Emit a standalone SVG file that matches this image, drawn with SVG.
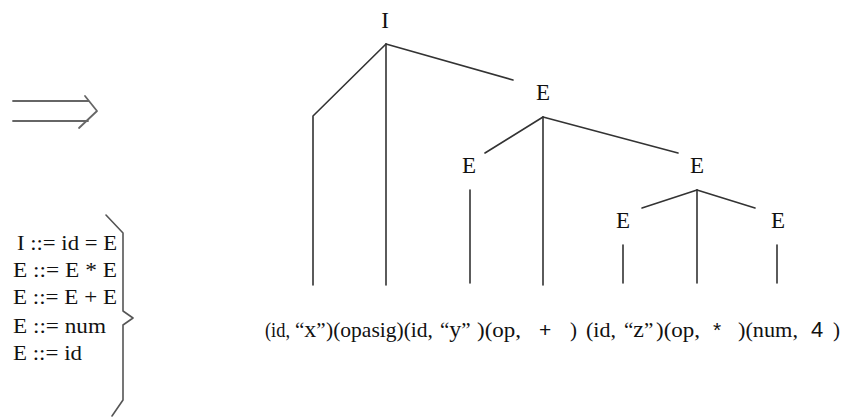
<svg xmlns="http://www.w3.org/2000/svg" width="845" height="417" viewBox="0 0 845 417">
<style>
.t{font-family:"Liberation Serif","Times New Roman",serif;fill:#111;}
.s{font-family:"Liberation Sans",Arial,sans-serif;fill:#111;}
.ln{stroke:#333;stroke-width:1.6;fill:none;stroke-linecap:round;stroke-linejoin:round;}
.nd{font-family:"Liberation Serif","Times New Roman",serif;fill:#111;font-size:23px;text-anchor:middle;}
</style>
<rect width="845" height="417" fill="#fff"/>
<g id="arrow">
<path class="ln" d="M13 101 H88 M13 121 H88 M85 96 L97 111 L79 128" style="stroke:#666;stroke-width:1.8"/>
</g>
<g id="grammar">
<text class="t" font-size="21" x="17" y="250" textLength="100" lengthAdjust="spacingAndGlyphs">I ::= id = E</text>
<text class="t" font-size="21" x="13" y="277" textLength="104" lengthAdjust="spacingAndGlyphs">E ::= E * E</text>
<text class="t" font-size="21" x="13" y="304" textLength="104" lengthAdjust="spacingAndGlyphs">E ::= E + E</text>
<text class="t" font-size="21" x="13" y="333" textLength="93" lengthAdjust="spacingAndGlyphs">E ::= num</text>
<text class="t" font-size="21" x="13" y="360" textLength="69" lengthAdjust="spacingAndGlyphs">E ::= id</text>
<path class="ln" d="M106 215 L123 233 V311 L133 318 L123 325 V400 L112 416" style="stroke:#555"/>
</g>
<g id="connectors" class="ln">
<path d="M386 44 L313 116 V285"/>
<path d="M386 44 V285"/>
<path d="M386 44 L513 80"/>
<path d="M543 117 L485 153"/>
<path d="M543 117 V285"/>
<path d="M543 117 L678 153"/>
<path d="M470 190 V283"/>
<path d="M697 190 L642 208"/>
<path d="M697 190 V283"/>
<path d="M697 190 L755 208"/>
<path d="M623 245 V283"/>
<path d="M777 245 V283"/>
</g>
<g id="node-I"><text class="nd" x="385" y="28">I</text></g>
<g id="node-E1"><text class="nd" x="543" y="100">E</text></g>
<g id="node-E2"><text class="nd" x="469" y="173">E</text></g>
<g id="node-E3"><text class="nd" x="697" y="173">E</text></g>
<g id="node-E4"><text class="nd" x="623" y="228">E</text></g>
<g id="node-E5"><text class="nd" x="778" y="228">E</text></g>
<g id="tokens" font-size="21">
<text class="t" x="265" y="337" textLength="25" lengthAdjust="spacingAndGlyphs">(id,</text>
<text class="t" x="295" y="337">“<tspan font-size="24">x</tspan>”</text>
<text class="t" x="326" y="337" textLength="107" lengthAdjust="spacingAndGlyphs">)(opasig)(id,</text>
<text class="t" x="440" y="337">“<tspan font-size="24">y</tspan>”</text>
<text class="t" x="477" y="337" textLength="44" lengthAdjust="spacingAndGlyphs">)(op,</text>
<text class="s" x="539" y="337">+</text>
<text class="t" x="570" y="337">)</text>
<text class="t" x="586" y="337" textLength="30" lengthAdjust="spacingAndGlyphs">(id,</text>
<text class="t" x="624" y="337">“<tspan font-size="24">z</tspan>”</text>
<text class="t" x="656" y="337" textLength="44" lengthAdjust="spacingAndGlyphs">)(op,</text>
<text class="s" x="713" y="337">*</text>
<text class="t" x="738" y="337" textLength="60" lengthAdjust="spacingAndGlyphs">)(num,</text>
<text class="s" font-size="22" x="811" y="337">4</text>
<text class="t" x="833" y="337">)</text>
</g>
</svg>
